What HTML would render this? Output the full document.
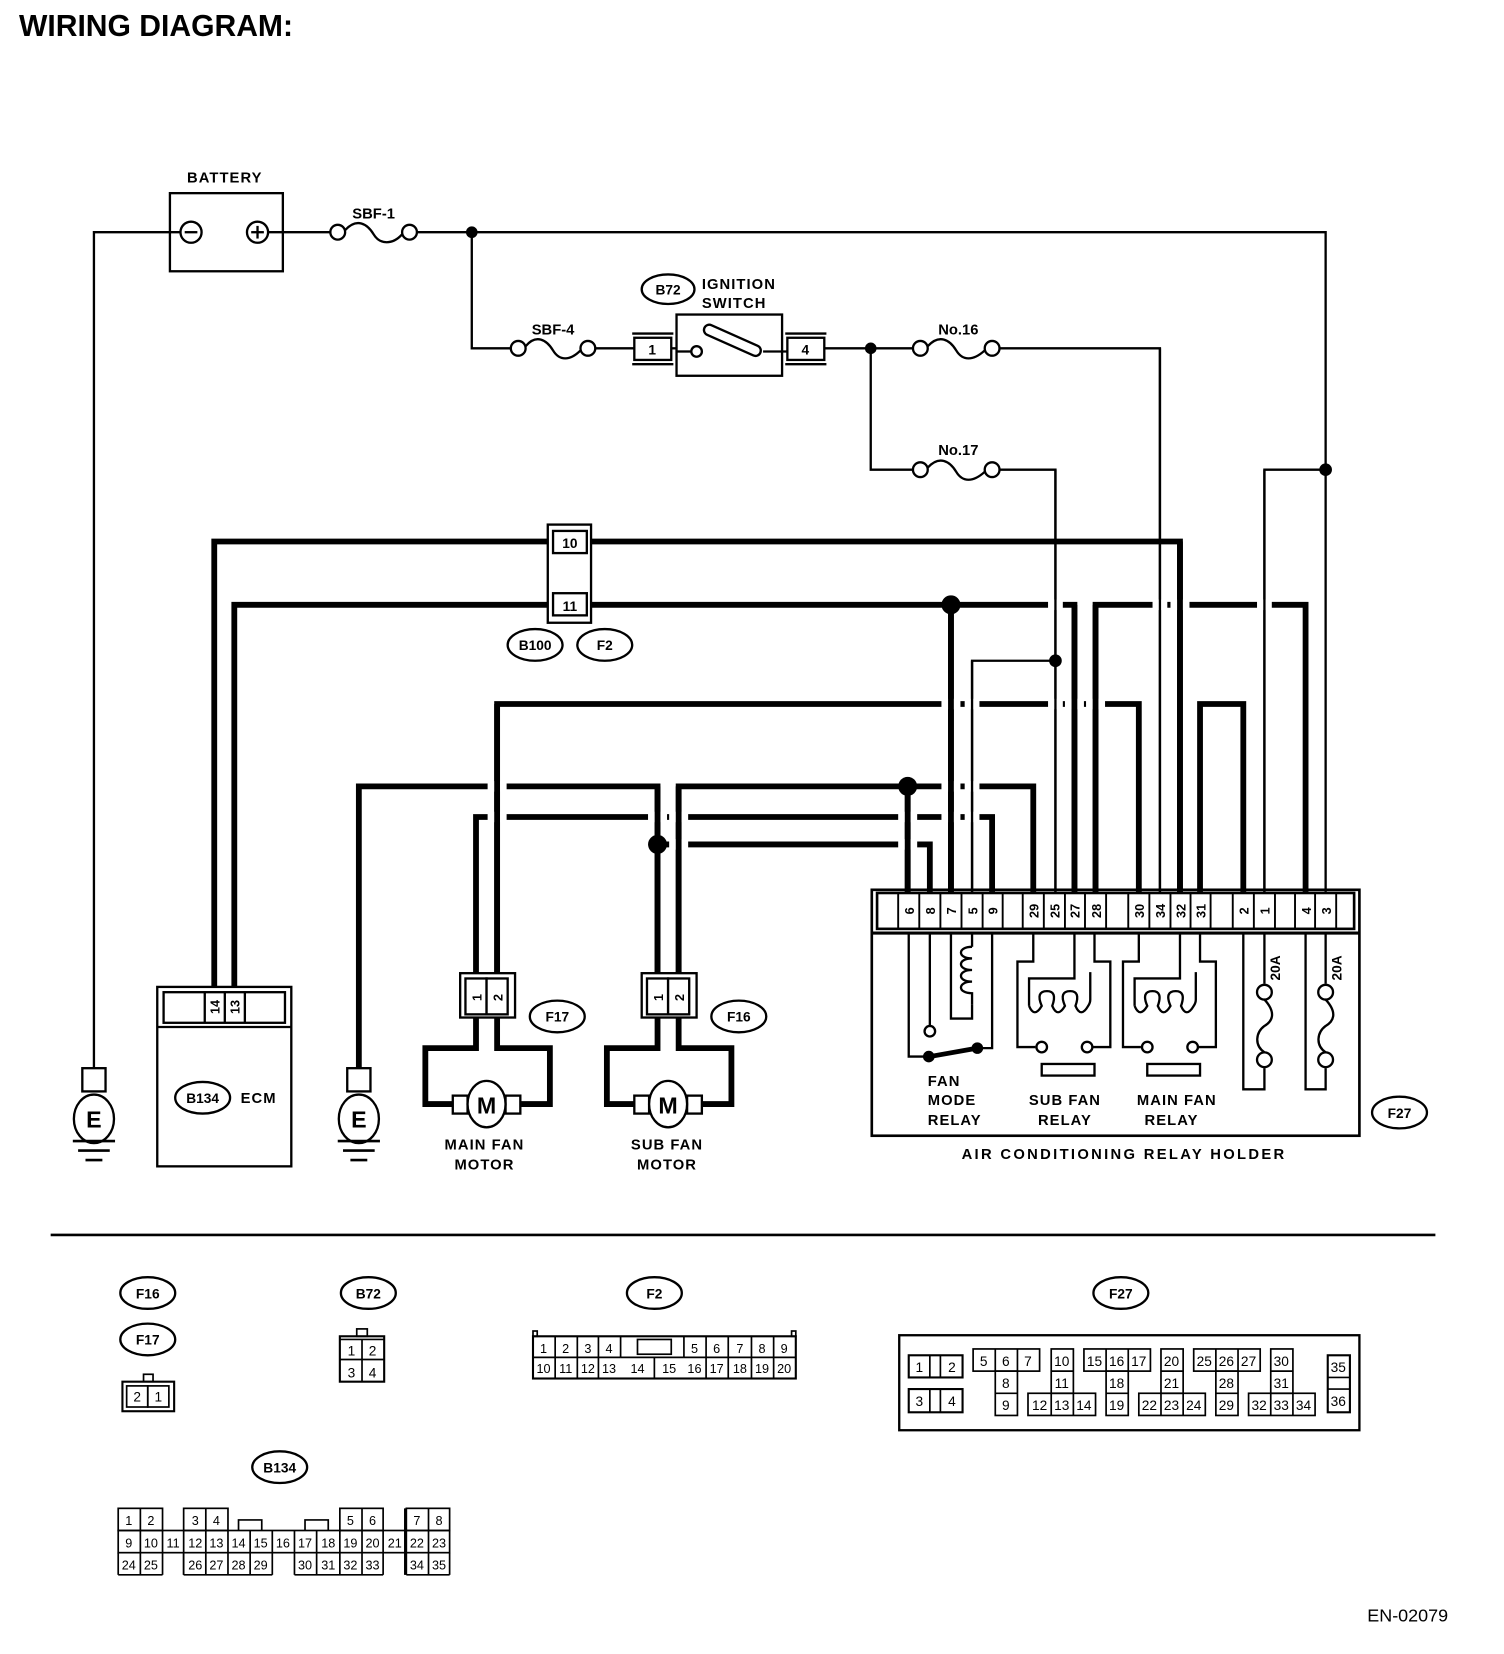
<!DOCTYPE html>
<html><head><meta charset="utf-8"><style>
html,body{margin:0;padding:0;background:#fff;}
svg{display:block;}
text{font-family:"Liberation Sans",Arial,sans-serif;font-weight:bold;fill:#000;}
</style></head><body>
<svg width="1504" height="1654" viewBox="0 0 1425 1567" preserveAspectRatio="none" xmlns="http://www.w3.org/2000/svg">
<rect x="0" y="0" width="1425" height="1567" fill="#fff"/>
<text x="18" y="34" font-size="28.5">WIRING DIAGRAM:</text>

<g fill="none" stroke="#000" stroke-width="2.2">
<rect x="161" y="183" width="107" height="74"/>
<circle cx="181" cy="220" r="10"/><line x1="175" y1="220" x2="187" y2="220"/>
<circle cx="244" cy="220" r="10"/><line x1="238" y1="220" x2="250" y2="220"/><line x1="244" y1="214" x2="244" y2="226"/>
<polyline points="171,220 89,220 89,1012"/>
<polyline points="254,220 313,220"/>
<circle cx="320" cy="220" r="7"/><circle cx="388" cy="220" r="7"/>
<path d="M327,218 C338,206 348,212 354,222 C360,232 372,232 381,222"/>
<polyline points="395,220 1256,220 1256,845"/>
<polyline points="447,220 447,330 484,330"/>
<circle cx="491" cy="330" r="7"/><circle cx="557" cy="330" r="7"/>
<path d="M498,328 C508,316 518,322 524,332 C530,342 540,342 550,332"/>
<line x1="564" y1="330" x2="601" y2="330"/>
<rect x="601" y="320" width="35" height="21"/>
<line x1="599" y1="316" x2="638" y2="316"/><line x1="599" y1="345" x2="638" y2="345"/>
<line x1="636" y1="330" x2="641" y2="330"/>
<rect x="641" y="298" width="100" height="58"/>
<line x1="641" y1="333" x2="655" y2="333"/>
<circle cx="660" cy="333" r="5"/>
<g transform="rotate(24 693 322)"><rect x="665" y="317" width="58" height="10" rx="5"/></g>
<line x1="723" y1="333" x2="746" y2="333"/>
<rect x="746" y="320" width="35" height="21"/>
<line x1="744" y1="316" x2="783" y2="316"/><line x1="744" y1="345" x2="783" y2="345"/>
<line x1="781" y1="330" x2="865" y2="330"/>
<circle cx="872" cy="330" r="7"/><circle cx="940" cy="330" r="7"/>
<path d="M879,328 C890,316 900,322 906,332 C912,342 922,342 933,332"/>
<polyline points="947,330 1099,330 1099,845"/>
<polyline points="825,330 825,445 865,445"/>
<circle cx="872" cy="445" r="7"/><circle cx="940" cy="445" r="7"/>
<path d="M879,443 C890,431 900,437 906,447 C912,457 922,457 933,447"/>
<polyline points="947,445 1000,445 1000,845"/>
<polyline points="1256,445 1198,445 1198,845"/>
<polyline points="1000,626 921,626 921,845"/>
</g>
<g fill="#000">
<circle cx="447" cy="220" r="5.5"/><circle cx="825" cy="330" r="5.5"/><circle cx="1256" cy="445" r="6"/><circle cx="1000" cy="626" r="6"/>
</g>
<text x="213" y="173" font-size="14" text-anchor="middle" letter-spacing="1">BATTERY</text>
<text x="354" y="207" font-size="14" text-anchor="middle">SBF-1</text>
<text x="524" y="317" font-size="14" text-anchor="middle">SBF-4</text>
<text x="908" y="317" font-size="14" text-anchor="middle">No.16</text>
<text x="908" y="431" font-size="14" text-anchor="middle">No.17</text>
<text x="618" y="336" font-size="13" text-anchor="middle">1</text>
<text x="763" y="336" font-size="13" text-anchor="middle">4</text>
<ellipse cx="633" cy="274" rx="25" ry="14" fill="none" stroke="#000" stroke-width="2.2"/>
<text x="633" y="279" font-size="13" text-anchor="middle">B72</text>
<text x="665" y="274" font-size="14" letter-spacing="1">IGNITION</text>
<text x="665" y="292" font-size="14" letter-spacing="1">SWITCH</text>

<g fill="none" stroke="#000" stroke-width="5.5">
<polyline points="203,935 203,513 1118,513 1118,845"/>
<polyline points="222,935 222,573 1018,573 1018,845"/>
<polyline points="1038,845 1038,573 1237,573 1237,845"/>
<polyline points="471,922 471,667 1079,667 1079,845"/>
<polyline points="1137,845 1137,667 1178,667 1178,845"/>
<polyline points="340,1012 340,745 623,745 623,922"/>
<polyline points="643,922 643,745 979,745 979,845"/>
<polyline points="451,922 451,774 940,774 940,845"/>
<polyline points="623,800 881,800 881,845"/>
<line x1="901" y1="573" x2="901" y2="845"/>
<line x1="860" y1="745" x2="860" y2="845"/>
</g>
<g fill="#fff">
<rect x="993" y="568" width="14" height="10"/><rect x="1092" y="568" width="14" height="10"/><rect x="1109" y="568" width="18" height="10"/><rect x="1191" y="568" width="14" height="10"/>
<rect x="892" y="662" width="18" height="10"/><rect x="914" y="662" width="14" height="10"/><rect x="993" y="662" width="14" height="10"/><rect x="1009" y="662" width="18" height="10"/><rect x="1029" y="662" width="18" height="10"/>
<rect x="462" y="740" width="18" height="10"/><rect x="892" y="740" width="18" height="10"/><rect x="914" y="740" width="14" height="10"/>
<rect x="462" y="769" width="18" height="10"/><rect x="614" y="769" width="18" height="10"/><rect x="634" y="769" width="18" height="10"/><rect x="851" y="769" width="18" height="10"/><rect x="892" y="769" width="18" height="10"/><rect x="914" y="769" width="14" height="10"/>
<rect x="634" y="795" width="18" height="10"/><rect x="851" y="795" width="18" height="10"/>
</g>
<g stroke="#000" stroke-width="5.5">
<line x1="471" y1="667" x2="471" y2="922"/><line x1="623" y1="745" x2="623" y2="922"/><line x1="643" y1="745" x2="643" y2="922"/>
<line x1="901" y1="573" x2="901" y2="845"/><line x1="860" y1="745" x2="860" y2="845"/>
<line x1="1018" y1="573" x2="1018" y2="845"/><line x1="1038" y1="573" x2="1038" y2="845"/><line x1="1118" y1="513" x2="1118" y2="845"/>
</g>
<g stroke="#000" stroke-width="2.2">
<line x1="1000" y1="445" x2="1000" y2="845"/><line x1="1099" y1="330" x2="1099" y2="845"/><line x1="1198" y1="445" x2="1198" y2="845"/><line x1="921" y1="626" x2="921" y2="845"/>
</g>
<g fill="#000">
<circle cx="901" cy="573" r="9"/><circle cx="860" cy="745" r="9"/><circle cx="623" cy="800" r="9"/>
</g>

<g fill="#fff" stroke="#000" stroke-width="2.2">
<rect x="519" y="497" width="41" height="93"/>
<rect x="524" y="503" width="32" height="21"/>
<rect x="524" y="562" width="32" height="21"/>
</g>
<text x="540" y="519" font-size="13" text-anchor="middle">10</text>
<text x="540" y="579" font-size="13" text-anchor="middle">11</text>
<g fill="none" stroke="#000" stroke-width="2.2">
<ellipse cx="507" cy="611" rx="26" ry="15"/><ellipse cx="573" cy="611" rx="26" ry="15"/>
</g>
<text x="507" y="616" font-size="13" text-anchor="middle">B100</text>
<text x="573" y="616" font-size="13" text-anchor="middle">F2</text>

<g fill="none" stroke="#000" stroke-width="2.2">
<rect x="149" y="935" width="127" height="170"/>
<rect x="155" y="940" width="115" height="29"/>
<line x1="149" y1="973" x2="276" y2="973"/>
<line x1="194" y1="940" x2="194" y2="969"/><line x1="213" y1="940" x2="213" y2="969"/><line x1="232" y1="940" x2="232" y2="969"/>
<ellipse cx="192" cy="1040" rx="26" ry="15"/>
</g>
<text transform="translate(208,954) rotate(-90)" font-size="12" text-anchor="middle">14</text>
<text transform="translate(227,954) rotate(-90)" font-size="12" text-anchor="middle">13</text>
<text x="192" y="1045" font-size="13" text-anchor="middle">B134</text>
<text x="228" y="1045" font-size="14" letter-spacing="1">ECM</text>

<g fill="#fff" stroke="#000" stroke-width="2.2">
<rect x="78" y="1012" width="22" height="22"/><ellipse cx="89" cy="1060" rx="19" ry="23"/>
<rect x="329" y="1012" width="22" height="22"/><ellipse cx="340" cy="1060" rx="19" ry="23"/>
</g>
<g stroke="#000" stroke-width="2.5">
<line x1="69" y1="1081" x2="109" y2="1081"/><line x1="74" y1="1090" x2="104" y2="1090"/><line x1="81" y1="1099" x2="97" y2="1099"/>
<line x1="320" y1="1081" x2="360" y2="1081"/><line x1="325" y1="1090" x2="355" y2="1090"/><line x1="332" y1="1099" x2="348" y2="1099"/>
</g>
<text x="89" y="1068" font-size="22" text-anchor="middle">E</text>
<text x="340" y="1068" font-size="22" text-anchor="middle">E</text>

<g id="m1">
<g fill="none" stroke="#000" stroke-width="5.5">
<polyline points="451,962 451,993 403,993 403,1046 430,1046"/>
<polyline points="471,962 471,993 521,993 521,1046 494,1046"/>
</g>
<g fill="#fff" stroke="#000" stroke-width="2.2">
<rect x="436" y="922" width="52" height="42"/>
<rect x="441" y="927" width="20" height="34"/><rect x="461" y="927" width="20" height="34"/>
<rect x="429" y="1038" width="14" height="17"/><rect x="479" y="1038" width="14" height="17"/>
<ellipse cx="461" cy="1046" rx="18" ry="22"/>
</g>
<text transform="translate(456,945) rotate(-90)" font-size="12" text-anchor="middle">1</text>
<text transform="translate(476,945) rotate(-90)" font-size="12" text-anchor="middle">2</text>
<text x="461" y="1055" font-size="22" text-anchor="middle">M</text>
</g>
<use href="#m1" transform="translate(172,0)"/>
<text x="459" y="1089" font-size="14" text-anchor="middle" letter-spacing="1">MAIN FAN</text>
<text x="459" y="1108" font-size="14" text-anchor="middle" letter-spacing="1">MOTOR</text>
<text x="632" y="1089" font-size="14" text-anchor="middle" letter-spacing="1">SUB FAN</text>
<text x="632" y="1108" font-size="14" text-anchor="middle" letter-spacing="1">MOTOR</text>
<g fill="none" stroke="#000" stroke-width="2.2">
<ellipse cx="528" cy="963" rx="26" ry="15"/><ellipse cx="700" cy="963" rx="26" ry="15"/><ellipse cx="1326" cy="1054" rx="26" ry="15"/>
</g>
<text x="528" y="968" font-size="13" text-anchor="middle">F17</text>
<text x="700" y="968" font-size="13" text-anchor="middle">F16</text>
<text x="1326" y="1059" font-size="13" text-anchor="middle">F27</text>

<g fill="none" stroke="#000" stroke-width="2.5">
<rect x="826" y="843" width="462" height="233"/>
<rect x="831" y="846" width="452" height="34"/>
<line x1="826" y1="884" x2="1288" y2="884" stroke-width="3"/>
</g>
<g stroke="#000" stroke-width="1.8">
<line x1="851" y1="846" x2="851" y2="880"/><line x1="871" y1="846" x2="871" y2="880"/><line x1="891" y1="846" x2="891" y2="880"/><line x1="911" y1="846" x2="911" y2="880"/><line x1="931" y1="846" x2="931" y2="880"/><line x1="950" y1="846" x2="950" y2="880"/>
<line x1="969" y1="846" x2="969" y2="880"/><line x1="989" y1="846" x2="989" y2="880"/><line x1="1009" y1="846" x2="1009" y2="880"/><line x1="1028" y1="846" x2="1028" y2="880"/><line x1="1048" y1="846" x2="1048" y2="880"/>
<line x1="1069" y1="846" x2="1069" y2="880"/><line x1="1089" y1="846" x2="1089" y2="880"/><line x1="1109" y1="846" x2="1109" y2="880"/><line x1="1128" y1="846" x2="1128" y2="880"/><line x1="1147" y1="846" x2="1147" y2="880"/>
<line x1="1168" y1="846" x2="1168" y2="880"/><line x1="1188" y1="846" x2="1188" y2="880"/><line x1="1208" y1="846" x2="1208" y2="880"/>
<line x1="1227" y1="846" x2="1227" y2="880"/><line x1="1246" y1="846" x2="1246" y2="880"/><line x1="1266" y1="846" x2="1266" y2="880"/>
</g>
<g font-size="12" text-anchor="middle">
<text transform="translate(866,863) rotate(-90)">6</text>
<text transform="translate(886,863) rotate(-90)">8</text>
<text transform="translate(906,863) rotate(-90)">7</text>
<text transform="translate(926,863) rotate(-90)">5</text>
<text transform="translate(945,863) rotate(-90)">9</text>
<text transform="translate(984,863) rotate(-90)">29</text>
<text transform="translate(1004,863) rotate(-90)">25</text>
<text transform="translate(1023,863) rotate(-90)">27</text>
<text transform="translate(1043,863) rotate(-90)">28</text>
<text transform="translate(1084,863) rotate(-90)">30</text>
<text transform="translate(1104,863) rotate(-90)">34</text>
<text transform="translate(1123,863) rotate(-90)">32</text>
<text transform="translate(1142,863) rotate(-90)">31</text>
<text transform="translate(1183,863) rotate(-90)">2</text>
<text transform="translate(1203,863) rotate(-90)">1</text>
<text transform="translate(1242,863) rotate(-90)">4</text>
<text transform="translate(1261,863) rotate(-90)">3</text>
</g>
<g fill="none" stroke="#000" stroke-width="2.2">
<polyline points="861,884 861,1001 876,1001"/>
<line x1="881" y1="884" x2="881" y2="972"/><circle cx="881" cy="977" r="5"/>
<polyline points="901,884 901,965 921,965 921,952"/>
<polyline points="921,884 921,897"/>
<path d="M921,897 c-14,0 -14,11 0,11 c-14,0 -14,11 0,11 c-14,0 -14,11 0,11 c-14,0 -14,11 0,11 l0,11"/>
<polyline points="940,884 940,993 930,993"/>
<polyline points="979,884 979,911 964,911 964,992 981,992"/><circle cx="987" cy="992" r="5"/>
<polyline points="1018,884 1018,927 975,927 975,953"/>
<path d="M975,953 q5,12 12,0 q-6,-14 5,-14 q10,0 5,14 q5,12 12,0 q-6,-14 5,-14 q10,0 5,14 q5,12 12,0 q2,-3 2,-6 l0,-26"/>
<polyline points="1037,884 1037,911 1052,911 1052,992 1036,992"/><circle cx="1030" cy="992" r="5"/>
<rect x="987" y="1008" width="50" height="11"/>
<polyline points="1079,884 1079,911 1064,911 1064,992 1081,992"/><circle cx="1087" cy="992" r="5"/>
<polyline points="1118,884 1118,927 1075,927 1075,953"/>
<path d="M1075,953 q5,12 12,0 q-6,-14 5,-14 q10,0 5,14 q5,12 12,0 q-6,-14 5,-14 q10,0 5,14 q5,12 12,0 q2,-3 2,-6 l0,-26"/>
<polyline points="1137,884 1137,911 1152,911 1152,992 1136,992"/><circle cx="1130" cy="992" r="5"/>
<rect x="1087" y="1008" width="50" height="11"/>
<polyline points="1178,884 1178,1032 1198,1032 1198,1012"/>
<line x1="1198" y1="884" x2="1198" y2="932"/>
<circle cx="1198" cy="940" r="7"/><circle cx="1198" cy="1004" r="7"/>
<path d="M1198,947 C1210,960 1205,968 1198,972 C1190,978 1188,990 1198,997"/>
<polyline points="1237,884 1237,1032 1256,1032 1256,1012"/>
<line x1="1256" y1="884" x2="1256" y2="932"/>
<circle cx="1256" cy="940" r="7"/><circle cx="1256" cy="1004" r="7"/>
<path d="M1256,947 C1268,960 1263,968 1256,972 C1248,978 1246,990 1256,997"/>
</g>
<g fill="#000" stroke="#000">
<line x1="881" y1="1001" x2="926" y2="993" stroke-width="4.5"/>
<circle cx="880" cy="1001" r="5"/><circle cx="926" cy="993" r="5"/>
</g>
<text transform="translate(1213,917) rotate(-90)" font-size="13" text-anchor="middle">20A</text>
<text transform="translate(1271,917) rotate(-90)" font-size="13" text-anchor="middle">20A</text>
<g font-size="14" letter-spacing="1">
<text x="879" y="1029">FAN</text><text x="879" y="1047">MODE</text><text x="879" y="1066">RELAY</text>
<text x="1009" y="1047" text-anchor="middle">SUB FAN</text><text x="1009" y="1066" text-anchor="middle">RELAY</text>
<text x="1115" y="1047" text-anchor="middle">MAIN FAN</text><text x="1110" y="1066" text-anchor="middle">RELAY</text>
<text x="1065" y="1098" text-anchor="middle" letter-spacing="2.2">AIR  CONDITIONING  RELAY  HOLDER</text>
</g>

<line x1="48" y1="1170" x2="1360" y2="1170" stroke="#000" stroke-width="2.5"/>

<g fill="none" stroke="#000" stroke-width="2.2">
<ellipse cx="140" cy="1225" rx="26" ry="15"/><ellipse cx="140" cy="1269" rx="26" ry="15"/>
<ellipse cx="349" cy="1225" rx="26" ry="15"/><ellipse cx="620" cy="1225" rx="26" ry="15"/>
<ellipse cx="1062" cy="1225" rx="26" ry="15"/><ellipse cx="265" cy="1390" rx="26" ry="15"/>
</g>
<g font-size="13" text-anchor="middle">
<text x="140" y="1230">F16</text><text x="140" y="1274">F17</text><text x="349" y="1230">B72</text><text x="620" y="1230">F2</text><text x="1062" y="1230">F27</text><text x="265" y="1395">B134</text>
</g>

<g fill="none" stroke="#000" stroke-width="1.6">
<rect x="116" y="1309" width="49" height="28" stroke-width="2"/><rect x="136" y="1302" width="9" height="7"/>
<rect x="120" y="1313" width="20" height="20"/><rect x="140" y="1313" width="20" height="20"/>
<rect x="322" y="1266" width="42" height="43" stroke-width="2"/><rect x="338" y="1259" width="10" height="7"/>
<line x1="322" y1="1269" x2="364" y2="1269"/><line x1="322" y1="1288" x2="364" y2="1288"/><line x1="343" y1="1269" x2="343" y2="1309"/>
<rect x="505" y="1266" width="249" height="40" stroke-width="2"/>
<line x1="505" y1="1286" x2="588" y2="1286"/><line x1="648" y1="1286" x2="754" y2="1286"/><line x1="588" y1="1286" x2="648" y2="1286"/>
<line x1="588" y1="1266" x2="588" y2="1286"/><line x1="648" y1="1266" x2="648" y2="1286"/>
<rect x="604" y="1269" width="32" height="14"/>
<rect x="505" y="1261" width="4" height="5"/><rect x="750" y="1261" width="4" height="5"/>
<line x1="526" y1="1266" x2="526" y2="1306"/><line x1="547" y1="1266" x2="547" y2="1306"/><line x1="567" y1="1266" x2="567" y2="1306"/>
<line x1="620" y1="1286" x2="620" y2="1306"/>
<line x1="669" y1="1266" x2="669" y2="1306"/><line x1="690" y1="1266" x2="690" y2="1306"/><line x1="712" y1="1266" x2="712" y2="1306"/><line x1="733" y1="1266" x2="733" y2="1306"/>
</g>
<g font-size="13" text-anchor="middle">
<text x="130" y="1328" style="font-weight:normal">2</text><text x="150" y="1328" style="font-weight:normal">1</text>
<text x="333" y="1284" style="font-weight:normal">1</text><text x="353" y="1284" style="font-weight:normal">2</text>
<text x="333" y="1305" style="font-weight:normal">3</text><text x="353" y="1305" style="font-weight:normal">4</text>
</g>
<g font-size="12" text-anchor="middle">
<text x="515" y="1282" style="font-weight:normal">1</text><text x="536" y="1282" style="font-weight:normal">2</text><text x="557" y="1282" style="font-weight:normal">3</text><text x="577" y="1282" style="font-weight:normal">4</text>
<text x="658" y="1282" style="font-weight:normal">5</text><text x="679" y="1282" style="font-weight:normal">6</text><text x="701" y="1282" style="font-weight:normal">7</text><text x="722" y="1282" style="font-weight:normal">8</text><text x="743" y="1282" style="font-weight:normal">9</text>
<text x="515" y="1301" style="font-weight:normal">10</text><text x="536" y="1301" style="font-weight:normal">11</text><text x="557" y="1301" style="font-weight:normal">12</text><text x="577" y="1301" style="font-weight:normal">13</text>
<text x="604" y="1301" style="font-weight:normal">14</text><text x="634" y="1301" style="font-weight:normal">15</text>
<text x="658" y="1301" style="font-weight:normal">16</text><text x="679" y="1301" style="font-weight:normal">17</text><text x="701" y="1301" style="font-weight:normal">18</text><text x="722" y="1301" style="font-weight:normal">19</text><text x="743" y="1301" style="font-weight:normal">20</text>
</g>

<g fill="none" stroke="#000" stroke-width="1.6">
<rect x="852" y="1265" width="436" height="90" stroke-width="2.2"/>
<rect x="861" y="1284" width="51" height="21" stroke-width="2"/><line x1="881" y1="1284" x2="881" y2="1305"/><line x1="891" y1="1284" x2="891" y2="1305"/>
<rect x="861" y="1316" width="51" height="22" stroke-width="2"/><line x1="881" y1="1316" x2="881" y2="1338"/><line x1="891" y1="1316" x2="891" y2="1338"/>
<rect x="922" y="1278" width="63" height="21"/><line x1="943" y1="1278" x2="943" y2="1299"/><line x1="964" y1="1278" x2="964" y2="1299"/>
<rect x="943" y="1299" width="21" height="42"/><line x1="943" y1="1320" x2="964" y2="1320"/>
<rect x="996" y="1278" width="21" height="42"/><line x1="996" y1="1299" x2="1017" y2="1299"/>
<rect x="974" y="1320" width="64" height="21"/><line x1="996" y1="1320" x2="996" y2="1341"/><line x1="1017" y1="1320" x2="1017" y2="1341"/>
<rect x="1027" y="1278" width="63" height="21"/><line x1="1048" y1="1278" x2="1048" y2="1299"/><line x1="1069" y1="1278" x2="1069" y2="1299"/>
<rect x="1048" y="1299" width="21" height="42"/><line x1="1048" y1="1320" x2="1069" y2="1320"/>
<rect x="1100" y="1278" width="21" height="42"/><line x1="1100" y1="1299" x2="1121" y2="1299"/>
<rect x="1079" y="1320" width="63" height="21"/><line x1="1100" y1="1320" x2="1100" y2="1341"/><line x1="1121" y1="1320" x2="1121" y2="1341"/>
<rect x="1131" y="1278" width="63" height="21"/><line x1="1152" y1="1278" x2="1152" y2="1299"/><line x1="1173" y1="1278" x2="1173" y2="1299"/>
<rect x="1152" y="1299" width="21" height="42"/><line x1="1152" y1="1320" x2="1173" y2="1320"/>
<rect x="1204" y="1278" width="21" height="42"/><line x1="1204" y1="1299" x2="1225" y2="1299"/>
<rect x="1183" y="1320" width="63" height="21"/><line x1="1204" y1="1320" x2="1204" y2="1341"/><line x1="1225" y1="1320" x2="1225" y2="1341"/>
<rect x="1258" y="1284" width="21" height="54" stroke-width="2"/><line x1="1258" y1="1305" x2="1279" y2="1305"/><line x1="1258" y1="1316" x2="1279" y2="1316"/>
</g>
<g font-size="13" text-anchor="middle">
<text x="871" y="1300" style="font-weight:normal">1</text><text x="902" y="1300" style="font-weight:normal">2</text>
<text x="871" y="1332" style="font-weight:normal">3</text><text x="902" y="1332" style="font-weight:normal">4</text>
<text x="932" y="1294" style="font-weight:normal">5</text><text x="953" y="1294" style="font-weight:normal">6</text><text x="974" y="1294" style="font-weight:normal">7</text>
<text x="953" y="1315" style="font-weight:normal">8</text><text x="953" y="1336" style="font-weight:normal">9</text>
<text x="1006" y="1294" style="font-weight:normal">10</text><text x="1006" y="1315" style="font-weight:normal">11</text>
<text x="985" y="1336" style="font-weight:normal">12</text><text x="1006" y="1336" style="font-weight:normal">13</text><text x="1027" y="1336" style="font-weight:normal">14</text>
<text x="1037" y="1294" style="font-weight:normal">15</text><text x="1058" y="1294" style="font-weight:normal">16</text><text x="1079" y="1294" style="font-weight:normal">17</text>
<text x="1058" y="1315" style="font-weight:normal">18</text><text x="1058" y="1336" style="font-weight:normal">19</text>
<text x="1110" y="1294" style="font-weight:normal">20</text><text x="1110" y="1315" style="font-weight:normal">21</text>
<text x="1089" y="1336" style="font-weight:normal">22</text><text x="1110" y="1336" style="font-weight:normal">23</text><text x="1131" y="1336" style="font-weight:normal">24</text>
<text x="1141" y="1294" style="font-weight:normal">25</text><text x="1162" y="1294" style="font-weight:normal">26</text><text x="1183" y="1294" style="font-weight:normal">27</text>
<text x="1162" y="1315" style="font-weight:normal">28</text><text x="1162" y="1336" style="font-weight:normal">29</text>
<text x="1214" y="1294" style="font-weight:normal">30</text><text x="1214" y="1315" style="font-weight:normal">31</text>
<text x="1193" y="1336" style="font-weight:normal">32</text><text x="1214" y="1336" style="font-weight:normal">33</text><text x="1235" y="1336" style="font-weight:normal">34</text>
<text x="1268" y="1300" style="font-weight:normal">35</text><text x="1268" y="1332" style="font-weight:normal">36</text>
</g>

<g fill="none" stroke="#000" stroke-width="1.6">
<rect x="112" y="1429" width="42" height="21"/><line x1="133" y1="1429" x2="133" y2="1450"/>
<rect x="174" y="1429" width="42" height="21"/><line x1="195" y1="1429" x2="195" y2="1450"/>
<rect x="322" y="1429" width="41" height="21"/><line x1="343" y1="1429" x2="343" y2="1450"/>
<rect x="385" y="1429" width="41" height="21"/><line x1="406" y1="1429" x2="406" y2="1450"/>
<polyline points="226,1450 226,1440 248,1440 248,1450"/>
<polyline points="289,1450 289,1440 311,1440 311,1450"/>
<rect x="112" y="1450" width="314" height="21"/>
<line x1="133" y1="1450" x2="133" y2="1492"/><line x1="154" y1="1450" x2="154" y2="1492"/><line x1="174" y1="1450" x2="174" y2="1492"/><line x1="195" y1="1450" x2="195" y2="1492"/><line x1="216" y1="1450" x2="216" y2="1492"/><line x1="237" y1="1450" x2="237" y2="1492"/><line x1="258" y1="1450" x2="258" y2="1492"/><line x1="279" y1="1450" x2="279" y2="1471"/><line x1="300" y1="1450" x2="300" y2="1492"/><line x1="322" y1="1450" x2="322" y2="1492"/><line x1="343" y1="1450" x2="343" y2="1492"/><line x1="363" y1="1450" x2="363" y2="1492"/><line x1="385" y1="1450" x2="385" y2="1492"/><line x1="406" y1="1450" x2="406" y2="1492"/>
<line x1="112" y1="1471" x2="112" y2="1492"/><line x1="112" y1="1492" x2="154" y2="1492"/>
<line x1="174" y1="1471" x2="174" y2="1492"/><line x1="174" y1="1492" x2="258" y2="1492"/>
<line x1="279" y1="1471" x2="279" y2="1492"/><line x1="279" y1="1492" x2="363" y2="1492"/>
<line x1="426" y1="1471" x2="426" y2="1492"/><line x1="385" y1="1492" x2="426" y2="1492"/>
<line x1="384" y1="1429" x2="384" y2="1492" stroke-width="2.4"/>
</g>
<g font-size="12" text-anchor="middle">
<text x="122" y="1445" style="font-weight:normal">1</text><text x="143" y="1445" style="font-weight:normal">2</text><text x="185" y="1445" style="font-weight:normal">3</text><text x="205" y="1445" style="font-weight:normal">4</text><text x="332" y="1445" style="font-weight:normal">5</text><text x="353" y="1445" style="font-weight:normal">6</text><text x="395" y="1445" style="font-weight:normal">7</text><text x="416" y="1445" style="font-weight:normal">8</text>
<text x="122" y="1466" style="font-weight:normal">9</text><text x="143" y="1466" style="font-weight:normal">10</text><text x="164" y="1466" style="font-weight:normal">11</text><text x="185" y="1466" style="font-weight:normal">12</text><text x="205" y="1466" style="font-weight:normal">13</text><text x="226" y="1466" style="font-weight:normal">14</text><text x="247" y="1466" style="font-weight:normal">15</text><text x="268" y="1466" style="font-weight:normal">16</text><text x="289" y="1466" style="font-weight:normal">17</text><text x="311" y="1466" style="font-weight:normal">18</text><text x="332" y="1466" style="font-weight:normal">19</text><text x="353" y="1466" style="font-weight:normal">20</text><text x="374" y="1466" style="font-weight:normal">21</text><text x="395" y="1466" style="font-weight:normal">22</text><text x="416" y="1466" style="font-weight:normal">23</text>
<text x="122" y="1487" style="font-weight:normal">24</text><text x="143" y="1487" style="font-weight:normal">25</text><text x="185" y="1487" style="font-weight:normal">26</text><text x="205" y="1487" style="font-weight:normal">27</text><text x="226" y="1487" style="font-weight:normal">28</text><text x="247" y="1487" style="font-weight:normal">29</text><text x="289" y="1487" style="font-weight:normal">30</text><text x="311" y="1487" style="font-weight:normal">31</text><text x="332" y="1487" style="font-weight:normal">32</text><text x="353" y="1487" style="font-weight:normal">33</text><text x="395" y="1487" style="font-weight:normal">34</text><text x="416" y="1487" style="font-weight:normal">35</text>
</g>

<text x="1372" y="1536" font-size="17" text-anchor="end" style="font-weight:normal">EN-02079</text>
</svg>
</body></html>
